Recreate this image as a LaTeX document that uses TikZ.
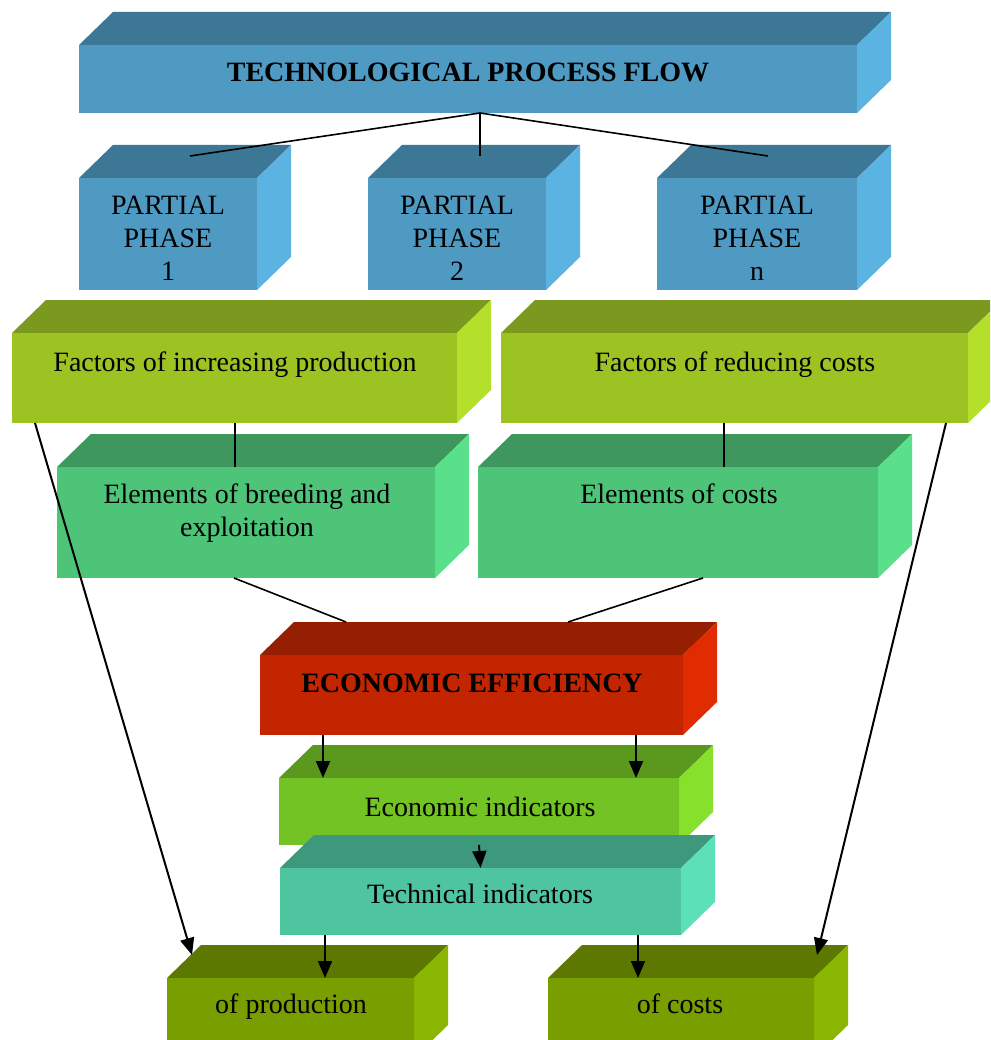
\documentclass[tikz,border=0pt]{standalone}
\usepackage{fontspec}
\setmainfont{Liberation Serif}
\usetikzlibrary{arrows.meta,calc}
\definecolor{blueF}{HTML}{4F9AC3}\definecolor{blueT}{HTML}{3D7796}\definecolor{blueS}{HTML}{5AB3E0}
\definecolor{facF}{HTML}{9DC323}\definecolor{facT}{HTML}{7A991E}\definecolor{facS}{HTML}{B4E02C}
\definecolor{eleF}{HTML}{4EC478}\definecolor{eleT}{HTML}{3E985D}\definecolor{eleS}{HTML}{5ADF8A}
\definecolor{redF}{HTML}{C22500}\definecolor{redT}{HTML}{951F00}\definecolor{redS}{HTML}{E02C00}
\definecolor{ecoF}{HTML}{72C323}\definecolor{ecoT}{HTML}{5B991E}\definecolor{ecoS}{HTML}{87E02C}
\definecolor{tecF}{HTML}{4EC49F}\definecolor{tecT}{HTML}{3D987C}\definecolor{tecS}{HTML}{5BE0B8}
\definecolor{oliF}{HTML}{799E00}\definecolor{oliT}{HTML}{5C7800}\definecolor{oliS}{HTML}{8AB500}
% #1 name, #2 x, #3 y (top of front face), #4 width, #5 height, #6 colour prefix
\newcommand\cubebox[6]{%
  \fill[#6T] (#2,#3) -- ++(#4,0) -- ++(34,-33) -- ++(-#4,0) -- cycle;
  \fill[#6S] (#2+#4,#3) -- ++(34,-33) -- ++(0,#5) -- ++(-34,33) -- cycle;
  \node[front, fill=#6F, minimum width=#4pt, minimum height=#5pt, anchor=north west] (#1) at (#2,#3) {};
}
\tikzset{
  front/.style={draw=none, inner sep=0pt, outer sep=0pt, rectangle},
  txt/.style={font=\fontsize{28}{33}\selectfont, align=center, inner sep=0pt},
  stxt/.style={font=\fontsize{28}{33}\selectfont, inner sep=0pt, anchor=base},
  btxt/.style={stxt, font=\fontsize{28}{33}\selectfont\bfseries},
  conn/.style={line width=1.6pt, black},
  arr/.style={line width=2pt, black, -{Triangle[length=17pt,width=14pt]}}
}
\begin{document}
\begin{tikzpicture}[x=1pt, y=-1pt]
\clip (0,0) rectangle (990,1040);
\fill[white] (0,0) rectangle (990,1040);
% boxes
\cubebox{tpf}{79}{45}{778}{68}{blue}
\cubebox{p1}{79}{178}{178}{112}{blue}
\cubebox{p2}{368}{178}{178}{112}{blue}
\cubebox{pn}{657}{178}{200}{112}{blue}
\cubebox{fip}{12}{333}{445}{90}{fac}
\cubebox{frc}{501}{333}{467}{90}{fac}
\cubebox{ebe}{57}{467}{378}{111}{ele}
\cubebox{eoc}{478}{467}{400}{111}{ele}
\cubebox{ee}{260}{655}{423}{80}{red}
\cubebox{ei}{279}{778}{400}{67}{eco}
\cubebox{ti}{280}{868}{401}{67}{tec}
\cubebox{op}{167}{978}{247}{80}{oli}
\cubebox{oc}{548}{978}{266}{80}{oli}
% texts
\node[btxt] (tpf-t) at (468,82) {TECHNOLOGICAL PROCESS FLOW};
\node[txt] (p1-t) at (168,238) {PARTIAL\\PHASE\\1};
\node[txt] (p2-t) at (457,238) {PARTIAL\\PHASE\\2};
\node[txt] (pn-t) at (757,238) {PARTIAL\\PHASE\\n};
\node[stxt] (fip-t) at (235,371) {Factors of increasing production};
\node[stxt] (frc-t) at (735,371) {Factors of reducing costs};
\node[txt] (ebe-t) at (247,513) {Elements of breeding and\\exploitation};
\node[stxt] (eoc-t) at (679,503) {Elements of costs};
\node[btxt] (ee-t) at (472,692) {ECONOMIC EFFICIENCY};
\node[stxt] (ei-t) at (480,816) {Economic indicators};
\node[stxt] (ti-t) at (480,903) {Technical indicators};
\node[stxt] (op-t) at (291,1013) {of production};
\node[stxt] (oc-t) at (680,1013) {of costs};
% connector end points
\coordinate (tpfc) at ($(tpf.south west)+(401,0)$);
\coordinate (p1c) at ($(p1.north west)+(111,-22)$);
\coordinate (p2c) at ($(p2.north west)+(112,-22)$);
\coordinate (pnc) at ($(pn.north west)+(111,-22)$);
\coordinate (eeL) at ($(ee.north west)+(86,-33)$);
\coordinate (eeR) at ($(ee.north west)+(308,-33)$);
\coordinate (opc) at ($(op.north west)+(25,-23)$);
\coordinate (occ) at ($(oc.north west)+(269,-23)$);
% plain connectors
\draw[conn] (tpfc) -- (p1c);
\draw[conn] (tpfc) -- (p2c);
\draw[conn] (tpfc) -- (pnc);
\draw[conn] ($(fip.south west)+(223,0)$) -- ($(ebe.north west)+(178,0)$);
\draw[conn] ($(frc.south west)+(223,0)$) -- ($(eoc.north west)+(246,0)$);
\draw[conn] ($(ebe.south west)+(177,0)$) -- (eeL);
\draw[conn] ($(eoc.south west)+(225,0)$) -- (eeR);
% arrows
\draw[arr] ($(fip.south west)+(23,0)$) -- (opc);
\draw[arr] ($(frc.south west)+(445,0)$) -- (occ);
\draw[arr] ($(ee.south west)+(63,0)$) -- ($(ei.north west)+(44,0)$);
\draw[arr] ($(ee.south west)+(376,0)$) -- ($(ei.north west)+(357,0)$);
\draw[arr] (ei.south) -- (ti.north);
\draw[arr] ($(ti.south west)+(45,0)$) -- ($(op.north west)+(158,0)$);
\draw[arr] ($(ti.south west)+(358,0)$) -- ($(oc.north west)+(90,0)$);
\end{tikzpicture}
\end{document}
